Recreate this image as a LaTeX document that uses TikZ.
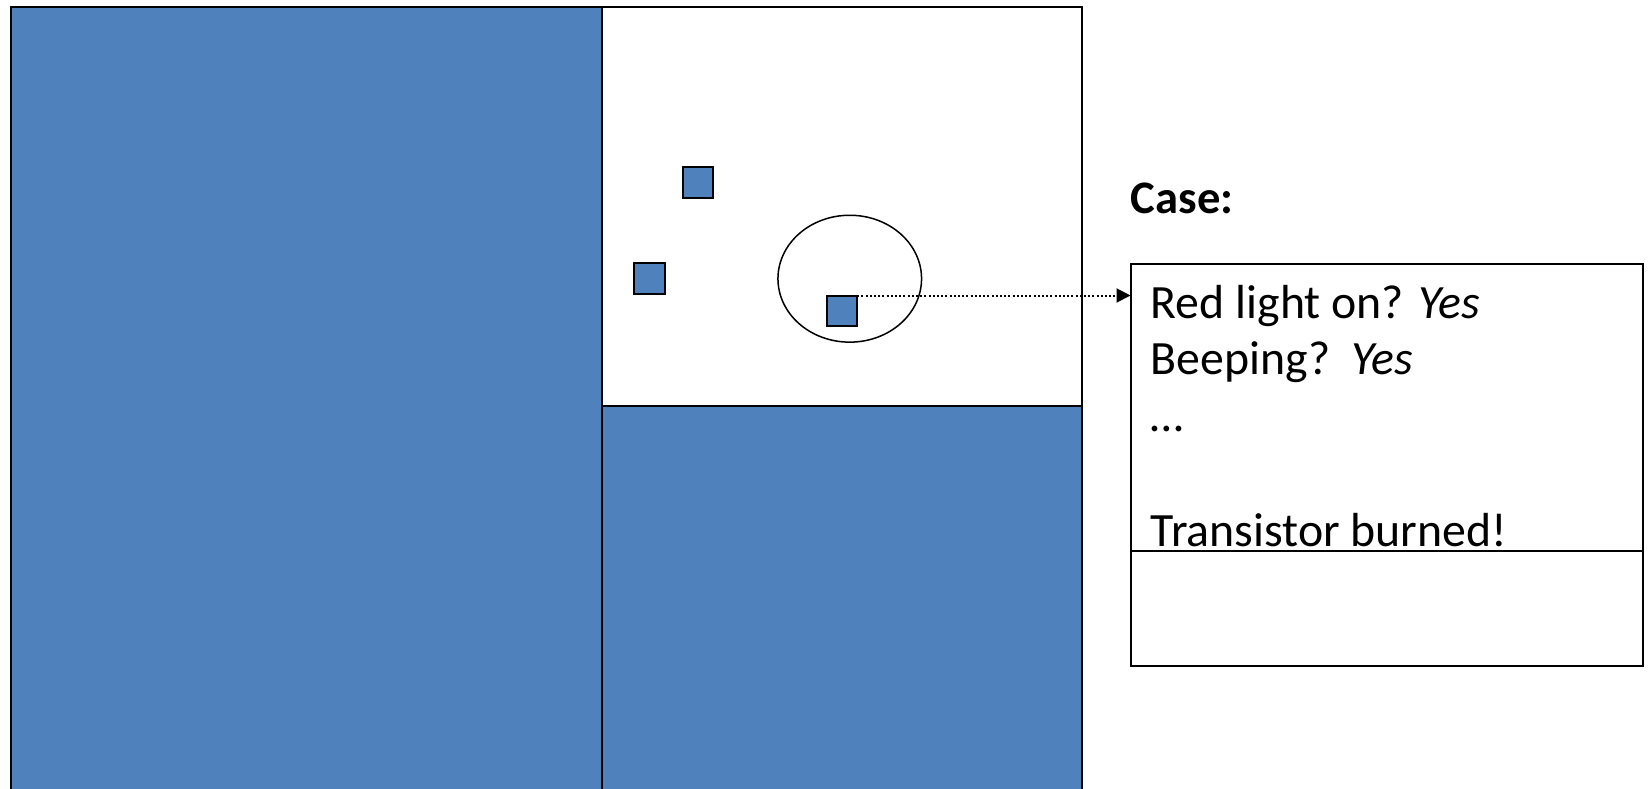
\documentclass[tikz,border=0pt]{standalone}
\usepackage{fontspec}
\setmainfont{Carlito}
\usetikzlibrary{arrows.meta,shapes.geometric}
\definecolor{panelblue}{HTML}{4F81BD}
\begin{document}
\begin{tikzpicture}[x=1pt,y=-1pt,
  panel/.style={draw=black, line width=2pt},
  chip/.style={draw=black, fill=panelblue, line width=2pt, minimum size=30.6pt,
    inner sep=0pt, outer sep=0pt},
  lens/.style={draw=black, line width=1.5pt, ellipse, minimum width=143.6pt,
    minimum height=126.9pt, inner sep=0pt, outer sep=0pt},
  casebox/.style={draw=black, line width=2pt, minimum width=512.5pt,
    minimum height=401.5pt, inner sep=0pt, outer sep=0pt},
  probe/.style={line width=2pt, dash pattern=on 2pt off 2.2pt,
    -{Triangle[length=14pt,width=14pt]}},
  label/.style={anchor=base west, inner sep=0pt, font=\fontsize{47.8}{57}\selectfont},
]
\useasboundingbox (0,0) rectangle (1649,789);

% board panels
\begin{scope}
  \clip (0,0) rectangle (1649,789);
  \fill[panelblue] (10.5,7.4) rectangle (601.6,800);
  \fill[panelblue] (601.6,406) rectangle (1082,800);
  \draw[panel] (10.5,800) -- (10.5,7.4) -- (1082,7.4) -- (1082,800);
  \draw[panel] (601.6,7.4) -- (601.6,800);
  \draw[panel] (601.6,406) -- (1082,406);
\end{scope}

% components on the board
\node[chip] (c1) at (697.8,182.5) {};
\node[chip] (c2) at (649.4,278.2) {};
\node[chip] (c3) at (841.9,310.8) {};
\node[lens] (focus) at (849.75,278.7) {};

% case record
\node[label, font=\fontsize{46.6}{57}\selectfont\bfseries] (title) at (1130.6,213.3) {Case:};
\node[casebox] (record) at (1386.75,465.05) {};
\draw[line width=1.5pt] (record.west |- 0,551) -- ([xshift=-1.5pt]record.east |- 0,551);

\node[label] (l1) at (1150.6,318.3) {Red light on? \textit{Yes}};
\node[label] (l2) at (1150.6,374.5) {Beeping?\ \ \textit{Yes}};
\node[label] (l3) at (1150.6,431.5) {…};
\node[label] (l4) at (1150.6,546.7) {Transistor burned!};

% link from the inspected component to its record
\draw[probe] (c3.north east) -- (c3.north east -| record.west);
\end{tikzpicture}
\end{document}
